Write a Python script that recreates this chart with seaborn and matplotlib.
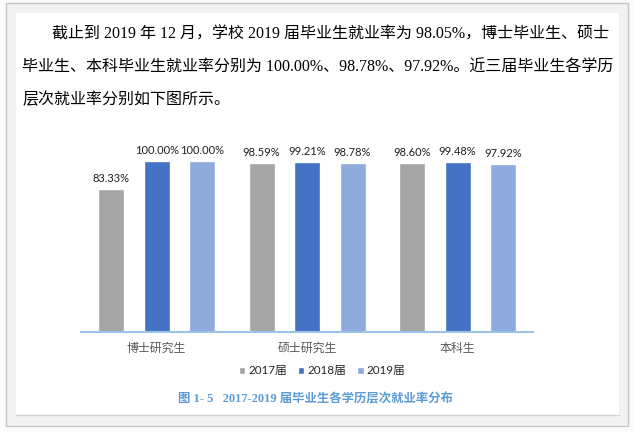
import pandas as pd
import seaborn as sns
import matplotlib
matplotlib.use("Agg")
import matplotlib.pyplot as plt
from matplotlib.patches import Rectangle
from matplotlib.lines import Line2D

# Data
levels = ['博士研究生', '硕士研究生', '本科生']
years = ['2017届', '2018届', '2019届']
rate_2017 = [83.33, 98.59, 98.60]
rate_2018 = [100.00, 99.21, 99.48]
rate_2019 = [100.00, 98.78, 97.92]
colors = ['#a5a5a5', '#4472c4', '#8faadc']

paragraph = [
    '截止到 2019 年 12 月，学校 2019 届毕业生就业率为 98.05%，博士毕业生、硕士',
    '毕业生、本科毕业生就业率分别为 100.00%、98.78%、97.92%。近三届毕业生各学历',
    '层次就业率分别如下图所示。',
]
caption = '图 1- 5   2017-2019 届毕业生各学历层次就业率分布'

df = pd.DataFrame({
    'level': levels * 3,
    'year': [y for y in years for _ in levels],
    'rate': rate_2017 + rate_2018 + rate_2019,
})

sns.set_style('white')
plt.rcParams['font.family'] = ['Lato', 'Noto Sans CJK SC', 'DejaVu Sans']

W, H = 635, 432
fig = plt.figure(figsize=(W / 100, H / 100), dpi=100, facecolor='#fbfbfb')

# page frame: grey border, light grey margin, white page
fig.add_artist(Rectangle((6 / W, 6 / H), 622 / W, 423 / H, transform=fig.transFigure,
                         facecolor='#f2f2f2', edgecolor='#c6c6c6', lw=1, zorder=-3))
fig.add_artist(Rectangle((16 / W, 17 / H), 603 / W, 402 / H, transform=fig.transFigure,
                         facecolor='white', edgecolor='none', zorder=-2))
fig.add_artist(Line2D([16 / W, 619 / W], [17 / H, 17 / H], transform=fig.transFigure,
                      color='#d0d0d0', lw=1, zorder=-1))

# paragraph text
serif = ['Liberation Serif', 'Noto Sans CJK SC']
line_x = [52, 22, 22]
line_y = [35, 68, 100]
for txt, x, y in zip(paragraph, line_x, line_y):
    fig.text(x / W, 1 - y / H, txt, fontsize=11.5, family=serif, color='#000000',
             ha='left', va='center')

# chart
ax = fig.add_axes([81.4 / W, 1 - 331.7 / H, 451.4 / W, (331.7 - 140.2) / H])
ax.set_facecolor('none')
sns.barplot(data=df, x='level', y='rate', hue='year', order=levels, hue_order=years,
            palette=colors, saturation=1, width=0.906, gap=0.427, legend=False, ax=ax)
ax.set_ylim(0, 112)
ax.set_xlim(-0.5, 2.5)

for c in ax.containers:
    ax.bar_label(c, fmt='%.2f%%', padding=3.5, fontsize=8.0, color='#1f1f1f')

for s in ['top', 'left', 'right']:
    ax.spines[s].set_visible(False)
ax.spines['bottom'].set_color('#9dc3e6')
ax.spines['bottom'].set_linewidth(1.5)
ax.set_yticks([])
ax.set_xlabel('')
ax.set_ylabel('')
ax.tick_params(axis='x', length=0, pad=8, labelsize=8.6, labelcolor='#595959')

ax.legend(ax.containers, years, loc='center', bbox_to_anchor=(322 / W, 1 - 370.7 / H),
          bbox_transform=fig.transFigure, ncol=3, frameon=False, fontsize=8.4,
          handlelength=0.55, handleheight=0.55, handletextpad=0.25, columnspacing=0.95,
          borderpad=0)

fig.text(315 / W, 1 - 399.3 / H, caption, fontsize=8.9, family=serif, weight='bold',
         color='#5b9bd5', ha='center', va='center')

fig.savefig('out.png', dpi=100, facecolor=fig.get_facecolor())
